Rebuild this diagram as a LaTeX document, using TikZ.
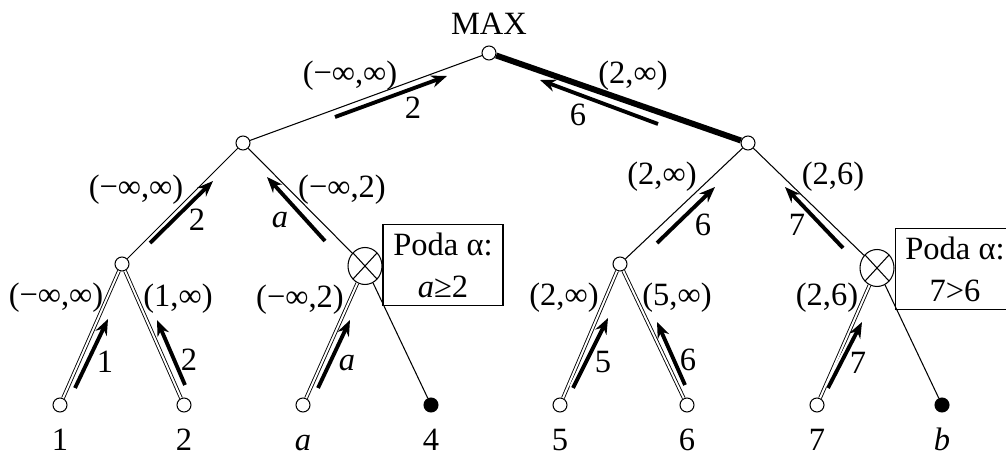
\documentclass[tikz,border=0pt]{standalone}
\usepackage{fontspec}
\setmainfont{Liberation Serif}
\usetikzlibrary{arrows.meta,shapes.geometric}

\tikzset{
    state/.style={circle, draw, fill=white, inner sep=0pt, minimum size=0.28cm, line width=0.6pt},
    cutleaf/.style={state, fill=black},
    pruned/.style={ellipse, draw, fill=white, inner sep=0pt, minimum width=0.68cm, minimum height=0.74cm, line width=0.6pt,
        path picture={\draw[line width=0.6pt] (path picture bounding box.north west) -- (path picture bounding box.south east)
            (path picture bounding box.south west) -- (path picture bounding box.north east);}},
    branch/.style={line width=0.6pt},
    twin/.style={line width=0.5pt, double, double distance=1.1pt},
    backup/.style={->, line width=2.2pt, preaction={draw=white, line width=4.6pt, -}},
    leafval/.style={anchor=base, inner sep=0.5pt},
    podabox/.style={draw, line width=0.6pt, align=center, minimum width=2.4cm, minimum height=1.62cm, inner sep=0pt}
}

\begin{document}
\begin{tikzpicture}[x=0.02cm, y=0.02cm, >={Stealth[length=9pt,width=7pt]}, font=\fontsize{18.5}{24}\selectfont]
    \useasboundingbox (0,0) rectangle (1006,-455);

    % tree nodes
    \node[state] (root) at (489,-53) {};
    \node (max) at (489,-24) {MAX};
    \node[state] (a1) at (243,-143) {};
    \node[state] (b1) at (748,-143) {};
    \node[state] (a11) at (122,-264) {};
    \node[pruned] (a12) at (365,-266) {};
    \node[state] (b11) at (620,-264) {};
    \node[pruned] (b12) at (877,-268) {};

    % leaves
    \node[state] (l1) at (60,-405) {};
    \node[state] (l2) at (184,-405) {};
    \node[state] (la) at (303,-405) {};
    \node[cutleaf] (l4) at (431,-405) {};
    \node[state] (l5) at (560,-405) {};
    \node[state] (l6) at (687,-405) {};
    \node[state] (l7) at (817,-405) {};
    \node[cutleaf] (lb) at (942,-405) {};

    \node[leafval] (v1) at (l1 |- 0,-450) {1};
    \node[leafval] (v2) at (l2 |- 0,-450) {2};
    \node[leafval] (va) at (la |- 0,-450) {\textit{a}};
    \node[leafval] (v4) at (l4 |- 0,-450) {4};
    \node[leafval] (v5) at (l5 |- 0,-450) {5};
    \node[leafval] (v6) at (l6 |- 0,-450) {6};
    \node[leafval] (v7) at (l7 |- 0,-450) {7};
    \node[leafval] (vb) at (lb |- 0,-450) {\textit{b}};

    % edges
    \draw[branch] (root) -- (a1);
    \draw[branch, line width=3.4pt] (root) -- (b1);
    \draw[branch] (a1) -- (a11);
    \draw[branch] (a1) -- (a12);
    \draw[branch] (b1) -- (b11);
    \draw[branch] (b1) -- (b12);
    \draw[twin] (a11) -- (l1);
    \draw[twin] (a11) -- (l2);
    \draw[twin] (a12) -- (la);
    \draw[branch] (a12) -- (l4);
    \draw[twin] (b11) -- (l5);
    \draw[twin] (b11) -- (l6);
    \draw[twin] (b12) -- (l7);
    \draw[branch] (b12) -- (lb);

    % backed-up values
    \draw[backup] (335,-117) -- (447,-76);
    \draw[backup] (658,-124) -- (540,-80);
    \draw[backup] (150,-243) -- (213,-181);
    \draw[backup] (325,-241) -- (267,-177);
    \draw[backup] (657,-243) -- (715,-187);
    \draw[backup] (843,-248) -- (785,-187);
    \draw[backup] (75,-388) -- (108,-319);
    \draw[backup] (185,-385) -- (157,-320);
    \draw[backup] (318,-388) -- (350,-320);
    \draw[backup] (573,-388) -- (608,-318);
    \draw[backup] (685,-385) -- (657,-322);
    \draw[backup] (828,-388) -- (862,-322);

    % windows
    \node (w0) at (350,-76) {(−∞,∞)};
    \node (w1) at (633,-76) {(2,∞)};
    \node (w2) at (136,-190) {(−∞,∞)};
    \node (w3) at (342,-190) {(−∞,2)};
    \node (w4) at (662,-177) {(2,∞)};
    \node (w5) at (833,-177) {(2,6)};
    \node (w6) at (56,-298) {(−∞,∞)};
    \node (w7) at (178,-299) {(1,∞)};
    \node (w8) at (300,-300) {(−∞,2)};
    \node (w9) at (564,-298) {(2,∞)};
    \node (w10) at (677,-298) {(5,∞)};
    \node (w11) at (827,-298) {(2,6)};

    % values
    \node (r0) at (413,-108) {2};
    \node (r1) at (578,-115) {6};
    \node (r2) at (197,-220) {2};
    \node (r3) at (280,-220) {\textit{a}};
    \node (r4) at (703,-225) {6};
    \node (r5) at (797,-225) {7};
    \node (r6) at (105,-362) {1};
    \node (r7) at (189,-360) {2};
    \node (r8) at (347,-363) {\textit{a}};
    \node (r9) at (603,-362) {5};
    \node (r10) at (688,-360) {6};
    \node (r11) at (858,-363) {7};

    % cut notes
    \node[podabox] (cutA) at (443,-265) {Poda α:\\\textit{a}≥2};
    \node[podabox] (cutB) at (955,-269) {Poda α:\\7>6};
\end{tikzpicture}
\end{document}
